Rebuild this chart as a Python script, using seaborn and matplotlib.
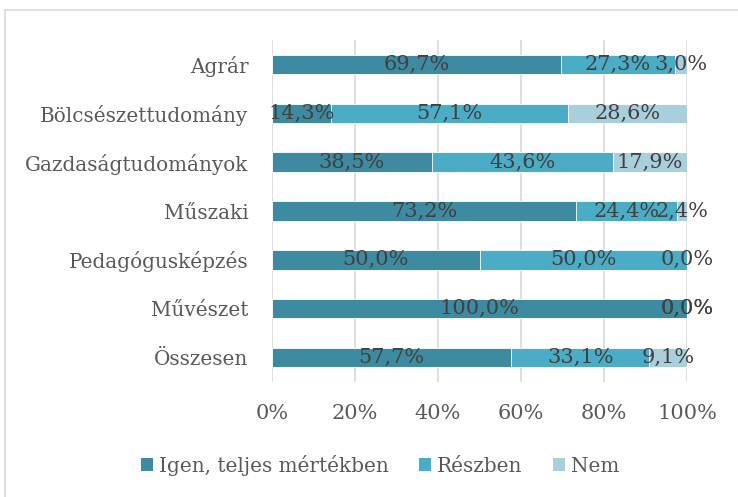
import numpy as np
import pandas as pd
import seaborn as sns
from matplotlib import pyplot as plt
from matplotlib.patches import Rectangle, Patch

categories = [
    "Agrár",
    "Bölcsészettudomány",
    "Gazdaságtudományok",
    "Műszaki",
    "Pedagógusképzés",
    "Művészet",
    "Összesen",
]
igen = [69.7, 14.3, 38.5, 73.2, 50.0, 100.0, 57.7]
reszben = [27.3, 57.1, 43.6, 24.4, 50.0, 0.0, 33.1]
nem = [3.0, 28.6, 17.9, 2.4, 0.0, 0.0, 9.1]
series = ["Igen, teljes mértékben", "Részben", "Nem"]
colors = ["#3d8aa1", "#4bacc6", "#a9cfdd"]

sns.set_style("white")
plt.rcParams["font.family"] = ["DejaVu Serif"]

df = pd.DataFrame({"cat": categories, "igen": igen, "reszben": reszben, "nem": nem})
df["c1"] = df["igen"]
df["c2"] = df["igen"] + df["reszben"]
df["c3"] = df["c2"] + df["nem"]

fs = 15

fig = plt.figure(figsize=(7.38, 4.97), dpi=100)
ax = fig.add_axes([272 / 738, 1 - 382 / 497, (687 - 272) / 738, (382 - 40) / 497])

# stacked bars drawn back to front from cumulative sums
for col, c in zip(["c3", "c2", "c1"], colors[::-1]):
    sns.barplot(data=df, x=col, y="cat", orient="h", color=c, width=0.4,
                saturation=1, edgecolor="white", linewidth=0.6, ax=ax, zorder=2)

# data labels centred in each segment
def fmt(v):
    return f"{v:.1f}%".replace(".", ",")

for i, row in df.iterrows():
    starts = [0, row["c1"], row["c2"]]
    vals = [row["igen"], row["reszben"], row["nem"]]
    for s, v in zip(starts, vals):
        ax.text(s + v / 2, i, fmt(v), ha="center", va="center",
                fontsize=fs, color="#404040", zorder=3)

ax.set_xlim(0, 100)
ax.set_ylim(6.5, -0.5)
ax.set_xticks(np.arange(0, 101, 20))
ax.set_xticklabels([f"{t}%" for t in range(0, 101, 20)])
ax.set_xlabel("")
ax.set_ylabel("")
ax.grid(axis="x", color="#d9d9d9", linewidth=1.2, zorder=0)
ax.set_axisbelow(True)
for sp in ax.spines.values():
    sp.set_visible(False)
ax.tick_params(axis="both", length=0, labelcolor="#595959")
ax.tick_params(axis="x", pad=16, labelsize=fs)
ax.tick_params(axis="y", pad=17, labelsize=14.4)

handles = [Patch(facecolor=c, edgecolor="none") for c in colors]
fig.legend(handles, series, loc="center", bbox_to_anchor=(380 / 738, 1 - 465 / 497),
           ncol=3, frameon=False, fontsize=14.4, labelcolor="#595959",
           handlelength=0.62, handleheight=0.62, handletextpad=0.3, columnspacing=1.5)

fig.patches.append(Rectangle((5 / 738, -0.05), 1.1, 1 - 10 / 497 + 0.05,
                             transform=fig.transFigure, fill=False,
                             edgecolor="#d9d9d9", linewidth=1.2))

plt.savefig("out.png", dpi=100)
plt.close()
